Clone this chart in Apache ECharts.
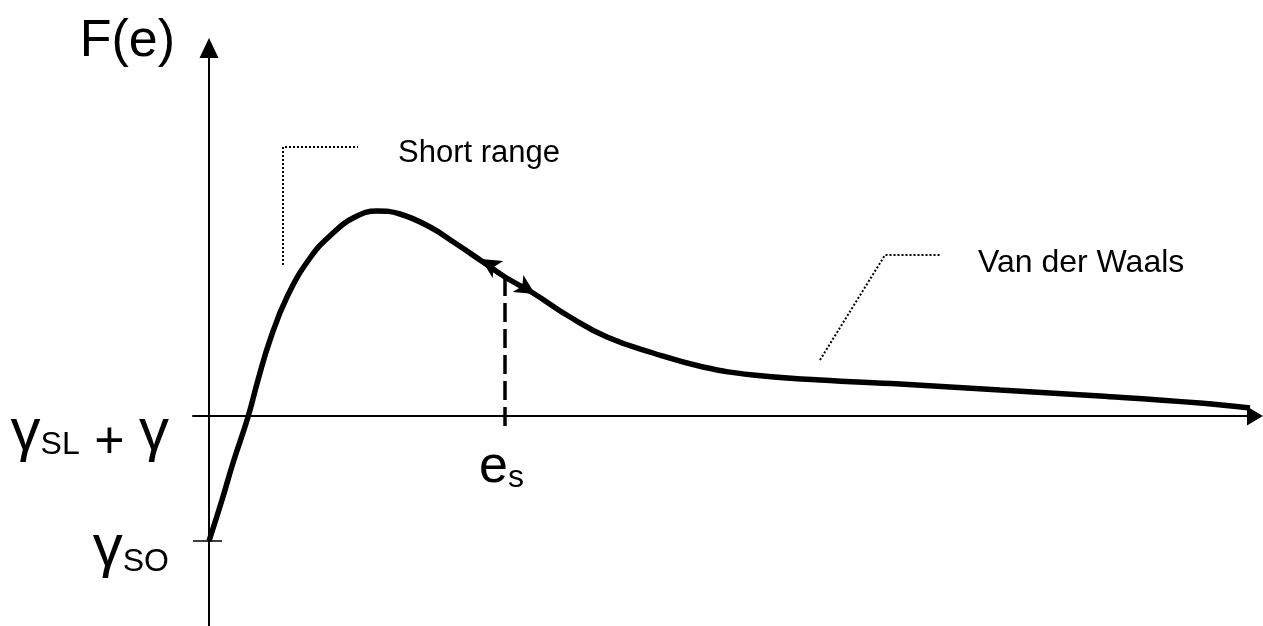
<!DOCTYPE html>
<html lang="en">
<head>
    <meta charset="UTF-8">
    <title>F(e)</title>
    <script src="https://cdn.jsdelivr.net/npm/echarts@6.0.0/dist/echarts.min.js"></script>
</head>
<body style="margin:0">
<div id="container" style="width:1263px;height:626px"></div>

<script type="text/javascript">
    // film thickness e (x) and free energy F (y)
    var curveE = [0, 13, 24, 39, 49, 61, 78, 101, 124, 146, 168, 191, 221, 246, 274, 296, 324, 361, 398, 444, 494, 544, 611, 691, 791, 891, 991, 1041];
    var curveF = [-125, -84, -47, -1, 36, 76, 119, 158, 183, 199, 205, 202, 189, 173, 154, 139, 123, 99, 79, 63, 49, 41, 36, 32, 26, 20, 13, 8];

    // y tick values and their labels
    var yTicks = [-125, 0];
    var yTickLabels = ['{gb|γ}{sb|SO}', '{ga|γ}{sa|SL}{pa| + }{ga|γ}'];

    // e_s marker
    var eS = 296;
    var eSLabel = {name: '{e|e}{s|s}', value: [270, -52]};

    // direction arrows on the curve: [e, F, rotation]
    var curveArrows = [[272, 157], [326, 122]];
    var arrowRotate = [58, -122];

    // annotation leaders and texts
    var shortLeader = [[74, 151], [74, 269], [149, 269]];
    var vdwLeader = [[611, 56], [676, 161], [731, 161]];
    var notes = [
        {name: 'Short range', value: [189, 263], label: {fontSize: 31}},
        {name: 'Van der Waals', value: [769, 153], label: {fontSize: 32}}
    ];
    var soTick = [[-16, -125], [13, -125]];

    var dom = document.getElementById('container');
    var myChart = echarts.init(dom, null, {renderer: 'canvas'});
    var font = 'Liberation Sans, Arial, sans-serif';

    var curveData = curveE.map(function (e, i) { return [e, curveF[i]]; });

    var option = {
        animation: false,
        textStyle: {fontFamily: font, color: '#000'},
        grid: {left: 193, right: 8, top: 48, bottom: 0, outerBoundsMode: 'none'},
        xAxis: {
            type: 'value',
            min: -16,
            max: 1046,
            splitLine: {show: false},
            axisTick: {show: false},
            axisLabel: {show: false},
            axisLine: {
                onZero: true,
                symbol: ['none', 'triangle'],
                symbolSize: [19, 16],
                lineStyle: {color: '#000', width: 2}
            }
        },
        yAxis: {
            type: 'value',
            min: -210,
            max: 368,
            splitLine: {show: false},
            axisTick: {show: false},
            name: 'F(e)',
            nameLocation: 'end',
            nameGap: 6,
            nameTextStyle: {
                fontSize: 52,
                fontFamily: font,
                color: '#000',
                align: 'right',
                verticalAlign: 'middle',
                padding: [0, 34, 0, 0]
            },
            axisLine: {
                onZero: true,
                symbol: ['none', 'triangle'],
                symbolSize: [19, 20],
                lineStyle: {color: '#000', width: 2}
            },
            axisLabel: {
                customValues: yTicks,
                formatter: function (v) { return yTickLabels[yTicks.indexOf(v)]; },
                margin: 24,
                color: '#000',
                fontFamily: font,
                rich: {
                    ga: {fontSize: 60, lineHeight: 60, padding: [34, 0, 0, 0], fontFamily: font},
                    sa: {fontSize: 32, lineHeight: 32, padding: [58, 0, 0, 0], fontFamily: font},
                    pa: {fontSize: 52, lineHeight: 52, padding: [56, 0, 0, 0], fontFamily: font},
                    gb: {fontSize: 60, lineHeight: 60, padding: [16, 0, 0, 0], fontFamily: font},
                    sb: {fontSize: 32, lineHeight: 32, padding: [43, 0, 0, 0], fontFamily: font}
                }
            }
        },
        series: [
            {
                name: 'F(e)',
                type: 'line',
                smooth: 0.45,
                symbol: 'none',
                lineStyle: {color: '#000', width: 5.5},
                data: curveData,
                z: 5
            },
            {
                name: 'es',
                type: 'line',
                symbol: 'none',
                lineStyle: {color: '#000', width: 3.5, type: [19, 7]},
                data: [[eS, 139], [eS, -12]]
            },
            {
                name: 'soTick',
                type: 'line',
                symbol: 'none',
                lineStyle: {color: '#000', width: 1.5},
                data: soTick
            },
            {
                name: 'shortLeader',
                type: 'line',
                symbol: 'none',
                lineStyle: {color: '#000', width: 2, type: [2, 2]},
                data: shortLeader
            },
            {
                name: 'vdwLeader',
                type: 'line',
                symbol: 'none',
                lineStyle: {color: '#000', width: 2, type: [2, 2]},
                data: vdwLeader
            },
            {
                name: 'arrows',
                type: 'scatter',
                symbol: 'arrow',
                symbolSize: [15, 20],
                itemStyle: {color: '#000', opacity: 1},
                data: curveArrows.map(function (a, i) {
                    return {value: a, symbolRotate: arrowRotate[i]};
                }),
                z: 6
            },
            {
                name: 'notes',
                type: 'scatter',
                symbolSize: 0,
                itemStyle: {opacity: 1},
                data: notes.concat([eSLabel]),
                label: {
                    show: true,
                    position: 'right',
                    distance: 0,
                    formatter: '{b}',
                    fontSize: 30,
                    fontFamily: font,
                    color: '#000',
                    opacity: 1,
                    rich: {
                        e: {fontSize: 52, lineHeight: 52, fontFamily: font, color: '#000'},
                        s: {fontSize: 32, lineHeight: 28, verticalAlign: 'bottom', fontFamily: font, color: '#000'}
                    }
                }
            }
        ]
    };

    myChart.setOption(option);
    window.addEventListener('resize', myChart.resize);
</script>
</body>
</html>
